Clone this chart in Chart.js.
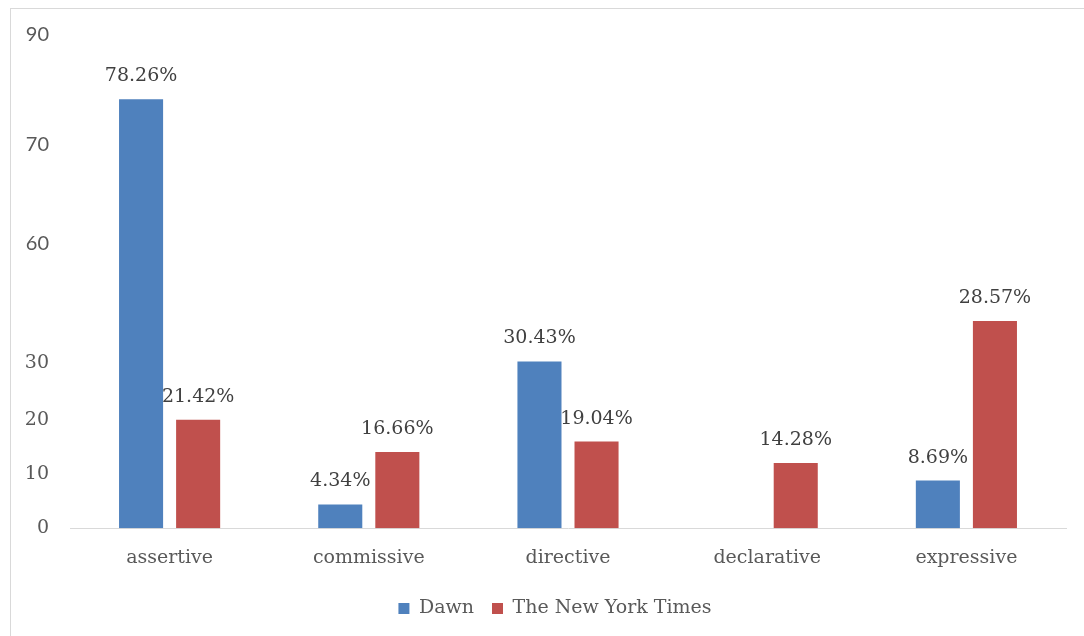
<!DOCTYPE html>
<html>
<head>
<meta charset="utf-8">
<script src="https://cdn.jsdelivr.net/npm/chart.js@4.4.1/dist/chart.umd.min.js"></script>
<style>
    html, body { margin: 0; padding: 0; background: #fff; }
    #wrap { position: relative; width: 1084px; height: 636px; overflow: hidden; }
    #frame { position: absolute; left: 10px; top: 8px; width: 1200px; height: 800px; border: 1px solid #d9d9d9; }
    #chart { position: absolute; left: 0; top: 0; }
</style>
</head>
<body>
<div id="wrap">
    <div id="frame"></div>
    <canvas id="chart" width="1084" height="636"></canvas>
</div>
<script>
// kategoriler ve seriler
const categories = ['assertive', 'commissive', 'directive', 'declarative', 'expressive'];
const dawnValues = [78.26, 4.34, 30.43, 0, 8.69];
const nytValues = [19.8, 13.9, 15.8, 11.9, 37.8];   // çubuk yükseklikleri
const dawnLabels = ['78.26%', '4.34%', '30.43%', '', '8.69%'];
const nytLabels = ['21.42%', '16.66%', '19.04%', '14.28%', '28.57%'];

// eksen etiketleri (orijinalde elle yazılmış, düzensiz)
const tickValues = [0, 9.9, 19.7, 30.1, 52, 70, 90];
const tickLabels = ['0', '10', '20', '30', '60', '70', '90'];
const sansTicks = ['60', '70', '90'];

const serif = '"DejaVu Serif", serif';

// çubukların üstüne yüzde etiketleri
const barLabelPlugin = {
    id: 'barLabels',
    afterLayout(chart) {
        // lejantı biraz sağa kaydır (orijinalde grafik alanına göre ortalı)
        chart.legend.left += 22;
        chart.legend.right += 22;
    },
    afterDatasetsDraw(chart) {
        const ctx = chart.ctx;
        const allLabels = [dawnLabels, nytLabels];
        ctx.save();
        ctx.font = '19px ' + serif;
        ctx.fillStyle = '#404040';
        ctx.textAlign = 'center';
        ctx.textBaseline = 'middle';
        chart.data.datasets.forEach((ds, i) => {
            const meta = chart.getDatasetMeta(i);
            meta.data.forEach((bar, j) => {
                const txt = allLabels[i][j];
                if (!txt) return;
                ctx.fillText(txt, bar.x, bar.y - 23);
            });
        });
        ctx.restore();
    }
};

const ctx = document.getElementById('chart').getContext('2d');
new Chart(ctx, {
    type: 'bar',
    data: {
        labels: categories,
        datasets: [
            { label: 'Dawn', data: dawnValues, backgroundColor: '#4F81BD' },
            { label: 'The New York Times', data: nytValues, backgroundColor: '#C0504D' }
        ]
    },
    options: {
        responsive: false,
        animation: false,
        categoryPercentage: 0.573,
        barPercentage: 0.772,
        layout: { padding: { left: 0, right: 18, top: 35, bottom: 8 } },
        plugins: {
            legend: {
                position: 'bottom',
                labels: {
                    boxWidth: 11,
                    boxHeight: 11,
                    padding: 18,
                    color: '#595959',
                    font: { family: serif, size: 19 }
                }
            },
            tooltip: { enabled: false }
        },
        scales: {
            x: {
                grid: { display: false },
                border: { color: '#d9d9d9', width: 1 },
                afterFit(scale) { scale.height += 2; },
                ticks: { color: '#595959', padding: 10, font: { family: serif, size: 19 } }
            },
            y: {
                min: 0,
                max: 90,
                grid: { display: false },
                border: { display: false },
                afterFit(scale) { scale.width = 70; },
                afterBuildTicks(scale) {
                    scale.ticks = tickValues.map(v => ({ value: v }));
                },
                ticks: {
                    color: '#595959',
                    padding: 13,
                    callback: (val, idx) => tickLabels[idx],
                    font: (c) => {
                        const lbl = tickLabels[c.index];
                        if (sansTicks.includes(lbl)) return { family: 'Lato, sans-serif', size: 20 };
                        return { family: serif, size: 19 };
                    }
                }
            }
        }
    },
    plugins: [barLabelPlugin]
});
</script>
</body>
</html>
